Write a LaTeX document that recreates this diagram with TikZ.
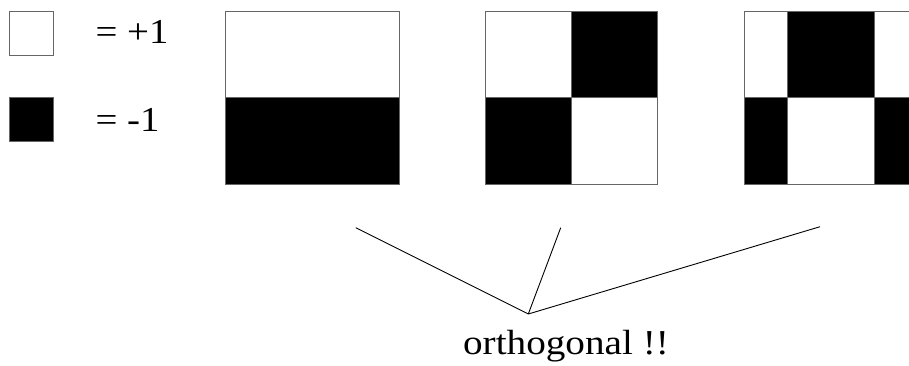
\documentclass[tikz,border=0pt]{standalone}
\usepackage{fontspec}
\setmainfont{Liberation Serif}
\begin{document}
\begin{tikzpicture}[x=1pt,y=-1pt,
  cell/.style={draw=black!60, line width=0.8pt, inner sep=0pt, outer sep=0pt, anchor=north west},
  plus/.style={cell, fill=white},
  minus/.style={cell, fill=black},
  pointer/.style={draw=black, line width=0.9pt, line join=miter},
  label/.style={anchor=base west, inner sep=0pt, font=\fontsize{35}{40}\selectfont},
]
\useasboundingbox (0,0) rectangle (909,365);
\clip (0,0) rectangle (909,365);

% legend
\node[plus,  minimum width=44pt, minimum height=43.3pt] (keyp) at (9.3,11.7) {};
\node[minus, minimum width=44pt, minimum height=44pt]   (keym) at (9.3,97.7) {};
\node[label] (valp) at (95.4,43) {\scalebox{1.11}[1]{= +1}};
\node[label] (valm) at (95.4,131) {\scalebox{1.11}[1]{= -1}};

% first pattern: two rows
\node[plus,  minimum width=173.3pt, minimum height=86pt]   (a1) at (225.7,11.7) {};
\node[minus, minimum width=173.3pt, minimum height=86.6pt] (a2) at (225.7,97.7) {};

% second pattern: checkerboard 2x2
\node[plus,  minimum width=86.5pt, minimum height=86pt]   (b11) at (485,11.7) {};
\node[minus, minimum width=86.2pt, minimum height=86pt]   (b12) at (571.5,11.7) {};
\node[minus, minimum width=86.5pt, minimum height=86.6pt] (b21) at (485,97.7) {};
\node[plus,  minimum width=86.2pt, minimum height=86.6pt] (b22) at (571.5,97.7) {};

% third pattern: columns + - - + over - + + -
\node[plus,  minimum width=43.3pt, minimum height=86pt]   (c11) at (744,11.7) {};
\node[minus, minimum width=86.7pt, minimum height=86pt]   (c12) at (787.3,11.7) {};
\node[plus,  minimum width=43.3pt, minimum height=86pt]   (c13) at (874,11.7) {};
\node[minus, minimum width=43.3pt, minimum height=86.6pt] (c21) at (744,97.7) {};
\node[plus,  minimum width=86.7pt, minimum height=86.6pt] (c22) at (787.3,97.7) {};
\node[minus, minimum width=43.3pt, minimum height=86.6pt] (c23) at (874,97.7) {};

% pointers to the caption
\coordinate (join) at (528.3,314);
\coordinate (t1) at (355.7,227.7);
\coordinate (t2) at (560.7,227.7);
\coordinate (t3) at (820,226.7);
\draw[pointer] (t1) -- (join);
\draw[pointer] (t2) -- (join);
\draw[pointer] (t3) -- (join);

\node[label] (caption) at (462.9,354) {\scalebox{1.12}[1]{orthogonal !!}};
\end{tikzpicture}
\end{document}
